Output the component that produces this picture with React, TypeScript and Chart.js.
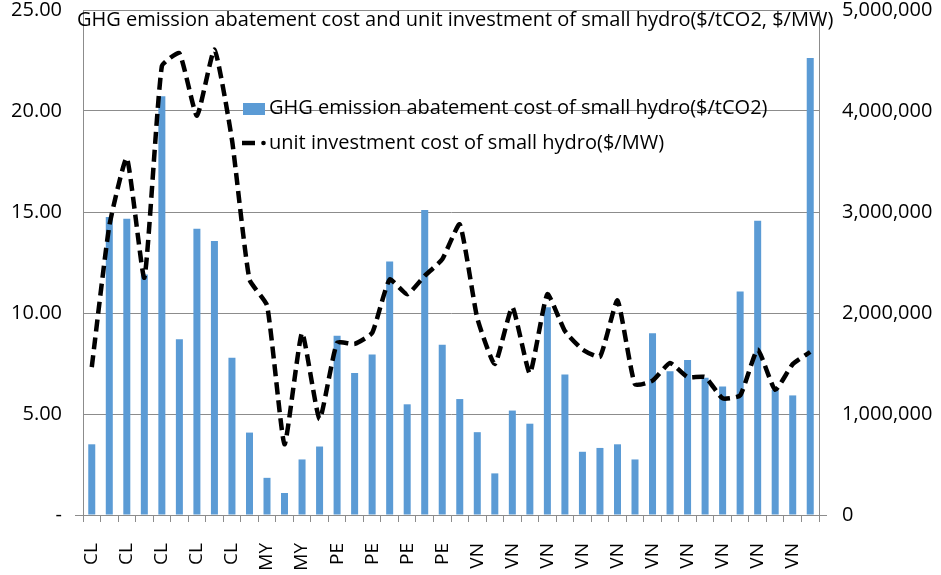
import React, { useEffect, useRef } from "react";
import { Chart, registerables } from "chart.js";

Chart.register(...registerables);

const categories = [
  "CL", "CL", "CL", "CL", "CL", "CL", "CL", "CL", "CL", "CL",
  "MY", "MY", "MY", "MY",
  "PE", "PE", "PE", "PE", "PE", "PE", "PE", "PE",
  "VN", "VN", "VN", "VN", "VN", "VN", "VN", "VN", "VN", "VN",
  "VN", "VN", "VN", "VN", "VN", "VN", "VN", "VN", "VN", "VN",
];

const abatementCost = [
  3.5, 14.75, 14.66, 11.9, 20.73, 8.7, 14.17, 13.57, 7.78, 4.08,
  1.84, 1.09, 2.75, 3.39,
  8.87, 7.03, 7.94, 12.55, 5.48, 15.1, 8.43, 5.74,
  4.1, 2.06, 5.17, 4.52, 10.29, 6.96, 3.13, 3.32, 3.5, 2.75,
  9.0, 7.12, 7.67, 6.8, 6.36, 11.07, 14.57, 6.2, 5.92, 22.62,
];

const unitInvestment = [
  1464000, 2860000, 3534000, 2350000, 4444000, 4572000, 3952000, 4608000, 3716000, 2332000,
  2076000, 700000, 1804000, 948000,
  1705000, 1694000, 1803000, 2332000, 2186000, 2368000, 2532000, 2878000,
  1949000, 1494000, 2058000, 1402000, 2186000, 1821000, 1639000, 1567000, 2124000, 1293000,
  1330000, 1504000, 1366000, 1366000, 1155000, 1184000, 1639000, 1239000, 1494000, 1614000,
];

const titleText = "GHG emission abatement cost and unit investment of small hydro($/tCO2, $/MW)";
const barLabel = "GHG emission abatement cost of small hydro($/tCO2)";
const lineLabel = "unit investment cost of small hydro($/MW)";

const FONT = "'Open Sans', sans-serif";
const FS = 20;
const TFS = 20;
const GRID = "#8c8c8c";
const BLUE = "#5B9BD5";

const overlayPlugin = {
  id: "overlay",
  afterDraw(chart: any) {
    const ctx = chart.ctx;
    const area = chart.chartArea;
    ctx.save();
    ctx.strokeStyle = GRID;
    ctx.lineWidth = 1;
    ctx.beginPath();
    ctx.moveTo(area.left - 8, area.bottom + 0.5);
    ctx.lineTo(area.left, area.bottom + 0.5);
    ctx.moveTo(area.right, area.bottom + 0.5);
    ctx.lineTo(area.right + 8, area.bottom + 0.5);
    ctx.stroke();
    ctx.fillStyle = "#000";
    ctx.font = `${FS}px ${FONT}`;
    ctx.textBaseline = "middle";
    ctx.textAlign = "left";
    ctx.fillText(titleText, 77, 20);
    ctx.fillStyle = BLUE;
    ctx.fillRect(243, 103, 22, 12);
    ctx.fillStyle = "#000";
    ctx.fillText(barLabel, 269, 108);
    ctx.strokeStyle = "#000";
    ctx.lineWidth = 4.5;
    ctx.beginPath();
    ctx.moveTo(242, 143);
    ctx.lineTo(255, 143);
    ctx.stroke();
    ctx.beginPath();
    ctx.arc(263.5, 143, 2.3, 0, Math.PI * 2);
    ctx.fill();
    ctx.fillText(lineLabel, 269, 143);
    ctx.restore();
  },
};

export default function App() {
  const ref = useRef<HTMLCanvasElement | null>(null);
  useEffect(() => {
    if (!ref.current) return;
    const chart = new Chart(ref.current, {
      type: "bar",
      data: {
        labels: categories,
        datasets: [
          {
            type: "line",
            label: lineLabel,
            data: unitInvestment,
            yAxisID: "y2",
            borderColor: "#000",
            borderWidth: 4.5,
            borderDash: [12, 6],
            pointRadius: 0,
            tension: 0.15,
            fill: false,
            order: 0,
          } as any,
          {
            type: "bar",
            label: barLabel,
            data: abatementCost,
            yAxisID: "y",
            backgroundColor: BLUE,
            categoryPercentage: 1,
            barPercentage: 0.4,
            order: 1,
          },
        ],
      },
      options: {
        animation: false,
        responsive: true,
        maintainAspectRatio: false,
        layout: { padding: { top: 10, left: 0, right: 0, bottom: 0 } },
        plugins: {
          legend: { display: false },
          title: { display: false },
          tooltip: { enabled: false },
        },
        scales: {
          x: {
            offset: true,
            grid: {
              offset: true,
              drawOnChartArea: false,
              drawTicks: true,
              tickLength: 7,
              color: GRID,
            },
            border: { display: true, color: GRID },
            ticks: {
              autoSkip: false,
              maxRotation: 90,
              minRotation: 90,
              padding: 21,
              color: "#000",
              font: { family: FONT, size: 19 },
              callback: (_v: any, i: number) => (i % 2 === 0 ? categories[i] : ""),
            },
            afterFit: (s: any) => {
              s.height = 60;
              s.paddingLeft = 0;
              s.paddingRight = 0;
            },
          },
          y: {
            position: "left",
            min: 0,
            max: 25,
            grid: { color: GRID, drawTicks: false },
            border: { display: true, color: GRID },
            ticks: {
              stepSize: 5,
              padding: 21,
              color: "#000",
              font: { family: FONT, size: TFS },
              callback: (v: any) => (Number(v) === 0 ? "-" : Number(v).toFixed(2)),
            },
            afterFit: (s: any) => {
              s.width = 83;
              s.paddingTop = 0;
              s.paddingBottom = 0;
            },
          },
          y2: {
            position: "right",
            min: 0,
            max: 5000000,
            grid: { drawOnChartArea: false, drawTicks: false },
            border: { display: true, color: GRID },
            ticks: {
              stepSize: 1000000,
              padding: 23,
              color: "#000",
              font: { family: FONT, size: TFS },
              callback: (v: any) => Number(v).toLocaleString("en-US"),
            },
            afterFit: (s: any) => {
              s.width = 122;
              s.paddingTop = 0;
              s.paddingBottom = 0;
            },
          },
        },
      },
      plugins: [overlayPlugin],
    });
    return () => chart.destroy();
  }, []);
  return (
    <div style={{ position: "absolute", left: 0, top: 0, width: 941, height: 575, background: "#fff" }}>
      <canvas ref={ref} />
    </div>
  );
}
